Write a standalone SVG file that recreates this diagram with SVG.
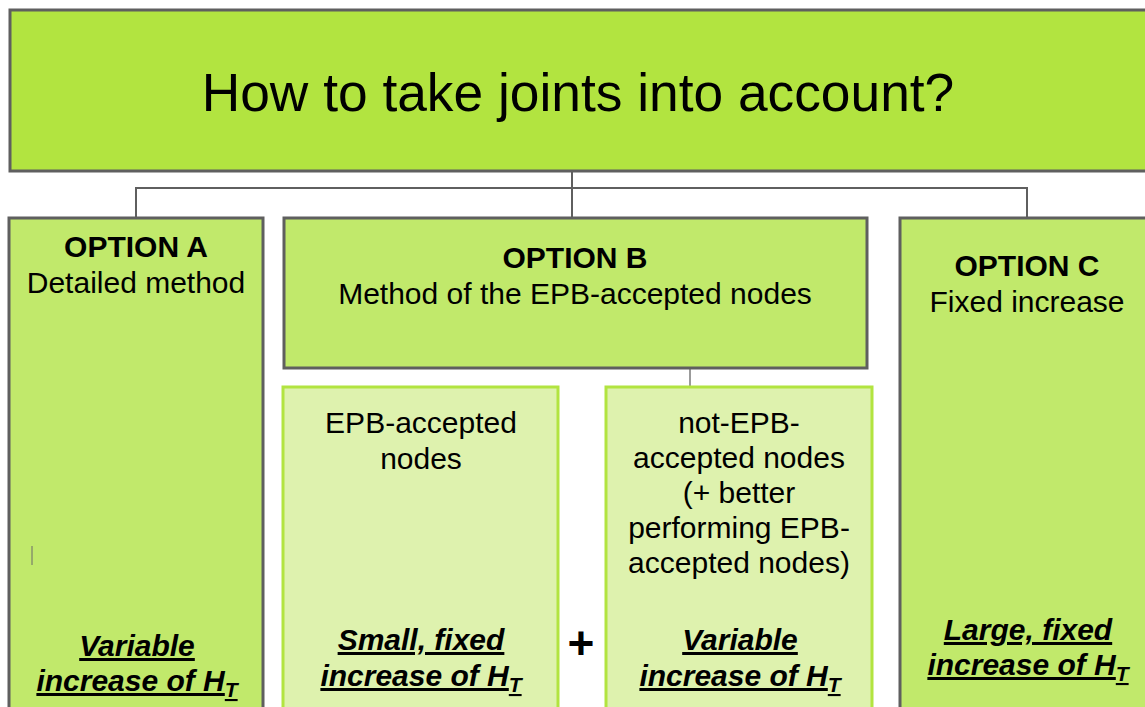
<svg xmlns="http://www.w3.org/2000/svg" width="1145" height="707" viewBox="0 0 1145 707">
<style>
text{font-family:"Liberation Sans",Arial,sans-serif;fill:#000;text-anchor:middle}
.t{font-size:53.3px}
.h{font-size:30px;font-weight:bold}
.r{font-size:30px}
.e{font-size:30px;font-weight:bold;font-style:italic}
.u{text-decoration:underline}
.sub{font-size:21px}
.top{fill:#b2e440;stroke:#5f5f5f;stroke-width:3}
.opt{fill:#c1e96b;stroke:#5f5f5f;stroke-width:3}
.sb{fill:#def2ae;stroke:#b2e440;stroke-width:3}
.c{fill:none;stroke:#5f5f5f;stroke-width:2}
</style>
<rect width="1145" height="707" fill="#fff"/>
<g id="connectors">
<path class="c" d="M572 171V188M136 218V188H1027V218M572 188V218"/>
<path d="M690 368V387" fill="none" stroke="#7a7a7a" stroke-width="1.5"/>
</g>
<g id="title">
<rect class="top" x="10" y="10" width="1150" height="161"/>
<text class="t" x="578" y="111">How to take joints into account?</text>
</g>
<g id="optionA">
<rect class="opt" x="9" y="218" width="254" height="500"/>
<text class="h" x="136" y="257">OPTION A</text>
<text class="r" x="136" y="293">Detailed method</text>
<line x1="32" y1="546" x2="32" y2="565" stroke="#6a6a6a" stroke-width="1"/>
<text class="e" x="137" y="656"><tspan class="u">Variable</tspan></text>
<text class="e" x="137" y="691"><tspan class="u">increase of H</tspan><tspan class="sub u" dy="6">T</tspan></text>
</g>
<g id="optionB">
<rect class="opt" x="284" y="218" width="583" height="150"/>
<text class="h" x="575" y="268">OPTION B</text>
<text class="r" x="575" y="304">Method of the EPB-accepted nodes</text>
</g>
<g id="epbAccepted">
<rect class="sb" x="283" y="387" width="275" height="330"/>
<text class="r" x="421" y="433">EPB-accepted</text>
<text class="r" x="421" y="469">nodes</text>
<text class="e" x="421" y="650"><tspan class="u">Small, fixed</tspan></text>
<text class="e" x="421" y="686"><tspan class="u">increase of H</tspan><tspan class="sub u" dy="6">T</tspan></text>
</g>
<g id="plus">
<text x="581" y="659" style="font-size:46px;font-weight:bold">+</text>
</g>
<g id="notEpbAccepted">
<rect class="sb" x="606" y="387" width="266" height="330"/>
<text class="r" x="739" y="433">not-EPB-</text>
<text class="r" x="739" y="468">accepted nodes</text>
<text class="r" x="739" y="503">(+ better</text>
<text class="r" x="739" y="538">performing EPB-</text>
<text class="r" x="739" y="573">accepted nodes)</text>
<text class="e" x="740" y="650"><tspan class="u">Variable</tspan></text>
<text class="e" x="740" y="686"><tspan class="u">increase of H</tspan><tspan class="sub u" dy="6">T</tspan></text>
</g>
<g id="optionC">
<rect class="opt" x="900" y="218" width="260" height="500"/>
<text class="h" x="1027" y="276">OPTION C</text>
<text class="r" x="1027" y="312">Fixed increase</text>
<text class="e" x="1028" y="640"><tspan class="u">Large, fixed</tspan></text>
<text class="e" x="1028" y="675"><tspan class="u">increase of H</tspan><tspan class="sub u" dy="6">T</tspan></text>
</g>
</svg>
